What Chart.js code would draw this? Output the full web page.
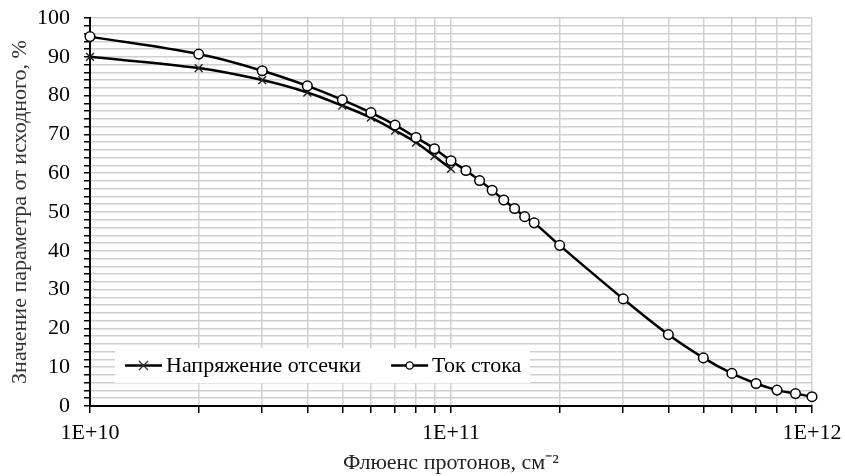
<!DOCTYPE html>
<html>
<head>
<meta charset="utf-8">
<script src="https://cdn.jsdelivr.net/npm/chart.js@4.4.1/dist/chart.umd.min.js"></script>
<style>
  html, body { margin: 0; padding: 0; background: #fff; }
  #wrap { width: 845px; height: 476px; }
</style>
</head>
<body>
<div id="wrap"><canvas id="fluenceChart"></canvas></div>
<script>
// fluence, cm^-2
const fluenceCutoff = [1e10, 2e10, 3e10, 4e10, 5e10, 6e10, 7e10, 8e10, 9e10, 1e11];
const cutoffVoltage = [90.0, 87.1, 84.0, 80.8, 77.4, 74.3, 71.0, 67.9, 64.4, 61.1];

const fluenceDrain = [1e10, 2e10, 3e10, 4e10, 5e10, 6e10, 7e10, 8e10, 9e10, 1e11,
  1.1e11, 1.2e11, 1.3e11, 1.4e11, 1.5e11, 1.6e11, 1.7e11, 2e11,
  3e11, 4e11, 5e11, 6e11, 7e11, 8e11, 9e11, 1e12];
const drainCurrent = [95.2, 90.7, 86.4, 82.5, 78.9, 75.6, 72.4, 69.2, 66.3, 63.2,
  60.7, 58.1, 55.6, 53.1, 50.9, 48.8, 47.2, 41.4,
  27.6, 18.4, 12.4, 8.4, 5.8, 4.1, 3.2, 2.4];

const seriesNames = ["Напряжение отсечки", "Ток стока"];
const xGridValues = [1e10, 2e10, 3e10, 4e10, 5e10, 6e10, 7e10, 8e10, 9e10,
  1e11, 2e11, 3e11, 4e11, 5e11, 6e11, 7e11, 8e11, 9e11, 1e12];
const xLabelValues = [1e10, 1e11, 1e12];

const FONT = '"Liberation Serif", "Times New Roman", serif';

const pairs = (xs, ys) => xs.map((x, i) => ({ x: x, y: ys[i] }));

// legend drawn inside the plot, over a white box, like the Excel original
const insideLegend = {
  id: "insideLegend",
  afterDraw(chart) {
    const { ctx, chartArea: a } = chart;
    const x0 = a.left + 25, y0 = a.bottom - 58, w = 415, h = 35;
    const cy = y0 + h / 2;
    ctx.save();
    ctx.fillStyle = "#fff";
    ctx.fillRect(x0, y0, w, h);
    ctx.font = "22px " + FONT;
    ctx.textBaseline = "middle";
    let x = x0 + 10;
    chart.data.datasets.forEach(ds => {
      ctx.strokeStyle = "#000";
      ctx.lineWidth = 2.5;
      ctx.beginPath();
      ctx.moveTo(x, cy);
      ctx.lineTo(x + 37, cy);
      ctx.stroke();
      const mx = x + 18.5;
      ctx.lineWidth = 1.3;
      if (ds.pointStyle === "crossRot") {
        ctx.strokeStyle = "#333";
        ctx.beginPath();
        ctx.moveTo(mx - 4.5, cy - 4.5); ctx.lineTo(mx + 4.5, cy + 4.5);
        ctx.moveTo(mx + 4.5, cy - 4.5); ctx.lineTo(mx - 4.5, cy + 4.5);
        ctx.stroke();
      } else {
        ctx.fillStyle = "#fff";
        ctx.beginPath();
        ctx.arc(mx, cy, 3.6, 0, Math.PI * 2);
        ctx.fill();
        ctx.stroke();
      }
      ctx.fillStyle = "#000";
      ctx.fillText(ds.label, x + 41, cy + 1);
      x = x + 41 + ctx.measureText(ds.label).width + 30;
    });
    ctx.restore();
  }
};

new Chart(document.getElementById("fluenceChart"), {
  type: "line",
  data: {
    datasets: [
      {
        label: seriesNames[0],
        data: pairs(fluenceCutoff, cutoffVoltage),
        borderColor: "#000",
        borderWidth: 2.5,
        pointStyle: "crossRot",
        pointRadius: 5.5,
        pointBorderWidth: 1.4,
        pointBorderColor: "#222",
        tension: 0.35,
        clip: false,
        order: 2
      },
      {
        label: seriesNames[1],
        data: pairs(fluenceDrain, drainCurrent),
        borderColor: "#000",
        borderWidth: 2.5,
        pointStyle: "circle",
        pointRadius: 4.8,
        pointBorderWidth: 1.5,
        pointBackgroundColor: "#fff",
        pointBorderColor: "#000",
        tension: 0.35,
        clip: false,
        order: 1
      }
    ]
  },
  options: {
    responsive: true,
    maintainAspectRatio: false,
    animation: false,
    parsing: false,
    layout: { padding: { top: 18, right: 33, left: 0, bottom: 0 } },
    plugins: {
      legend: { display: false },
      tooltip: { enabled: false }
    },
    scales: {
      x: {
        type: "logarithmic",
        min: 1e10,
        max: 1e12,
        afterBuildTicks: scale => {
          scale.ticks = xGridValues.map(v => ({ value: v }));
        },
        afterFit: scale => {
          scale.height = 70;
          scale.paddingLeft = 0;
          scale.paddingRight = 0;
        },
        ticks: {
          autoSkip: false,
          maxRotation: 0,
          padding: 7,
          color: "#000",
          font: { family: FONT, size: 22 },
          callback: v => xLabelValues.includes(v) ? v.toExponential(0).toUpperCase() : ""
        },
        grid: {
          color: "#d0d0d0",
          lineWidth: 1.5,
          tickColor: "#000",
          tickLength: 7,
          tickWidth: 1.5
        },
        border: { display: true, color: "#000", width: 2 },
        title: {
          display: true,
          text: "Флюенс протонов, см⁻²",
          color: "#222",
          font: { family: FONT, size: 22 },
          padding: { top: 0, bottom: 0 }
        }
      },
      y: {
        min: 0,
        max: 100,
        afterFit: scale => {
          scale.width = 90;
          scale.paddingTop = 0;
          scale.paddingBottom = 0;
        },
        ticks: {
          stepSize: 2,
          autoSkip: false,
          padding: 14,
          color: "#000",
          font: { family: FONT, size: 22 },
          callback: v => v % 10 === 0 ? String(v) : ""
        },
        grid: {
          color: "#d0d0d0",
          lineWidth: 1.5,
          tickColor: "#000",
          tickLength: 6,
          tickWidth: 1.5
        },
        border: { display: true, color: "#000", width: 2 },
        title: {
          display: true,
          text: "Значение параметра от исходного, %",
          color: "#333",
          font: { family: FONT, size: 22 },
          padding: { top: 7, bottom: 0 }
        }
      }
    }
  },
  plugins: [insideLegend]
});
</script>
</body>
</html>
